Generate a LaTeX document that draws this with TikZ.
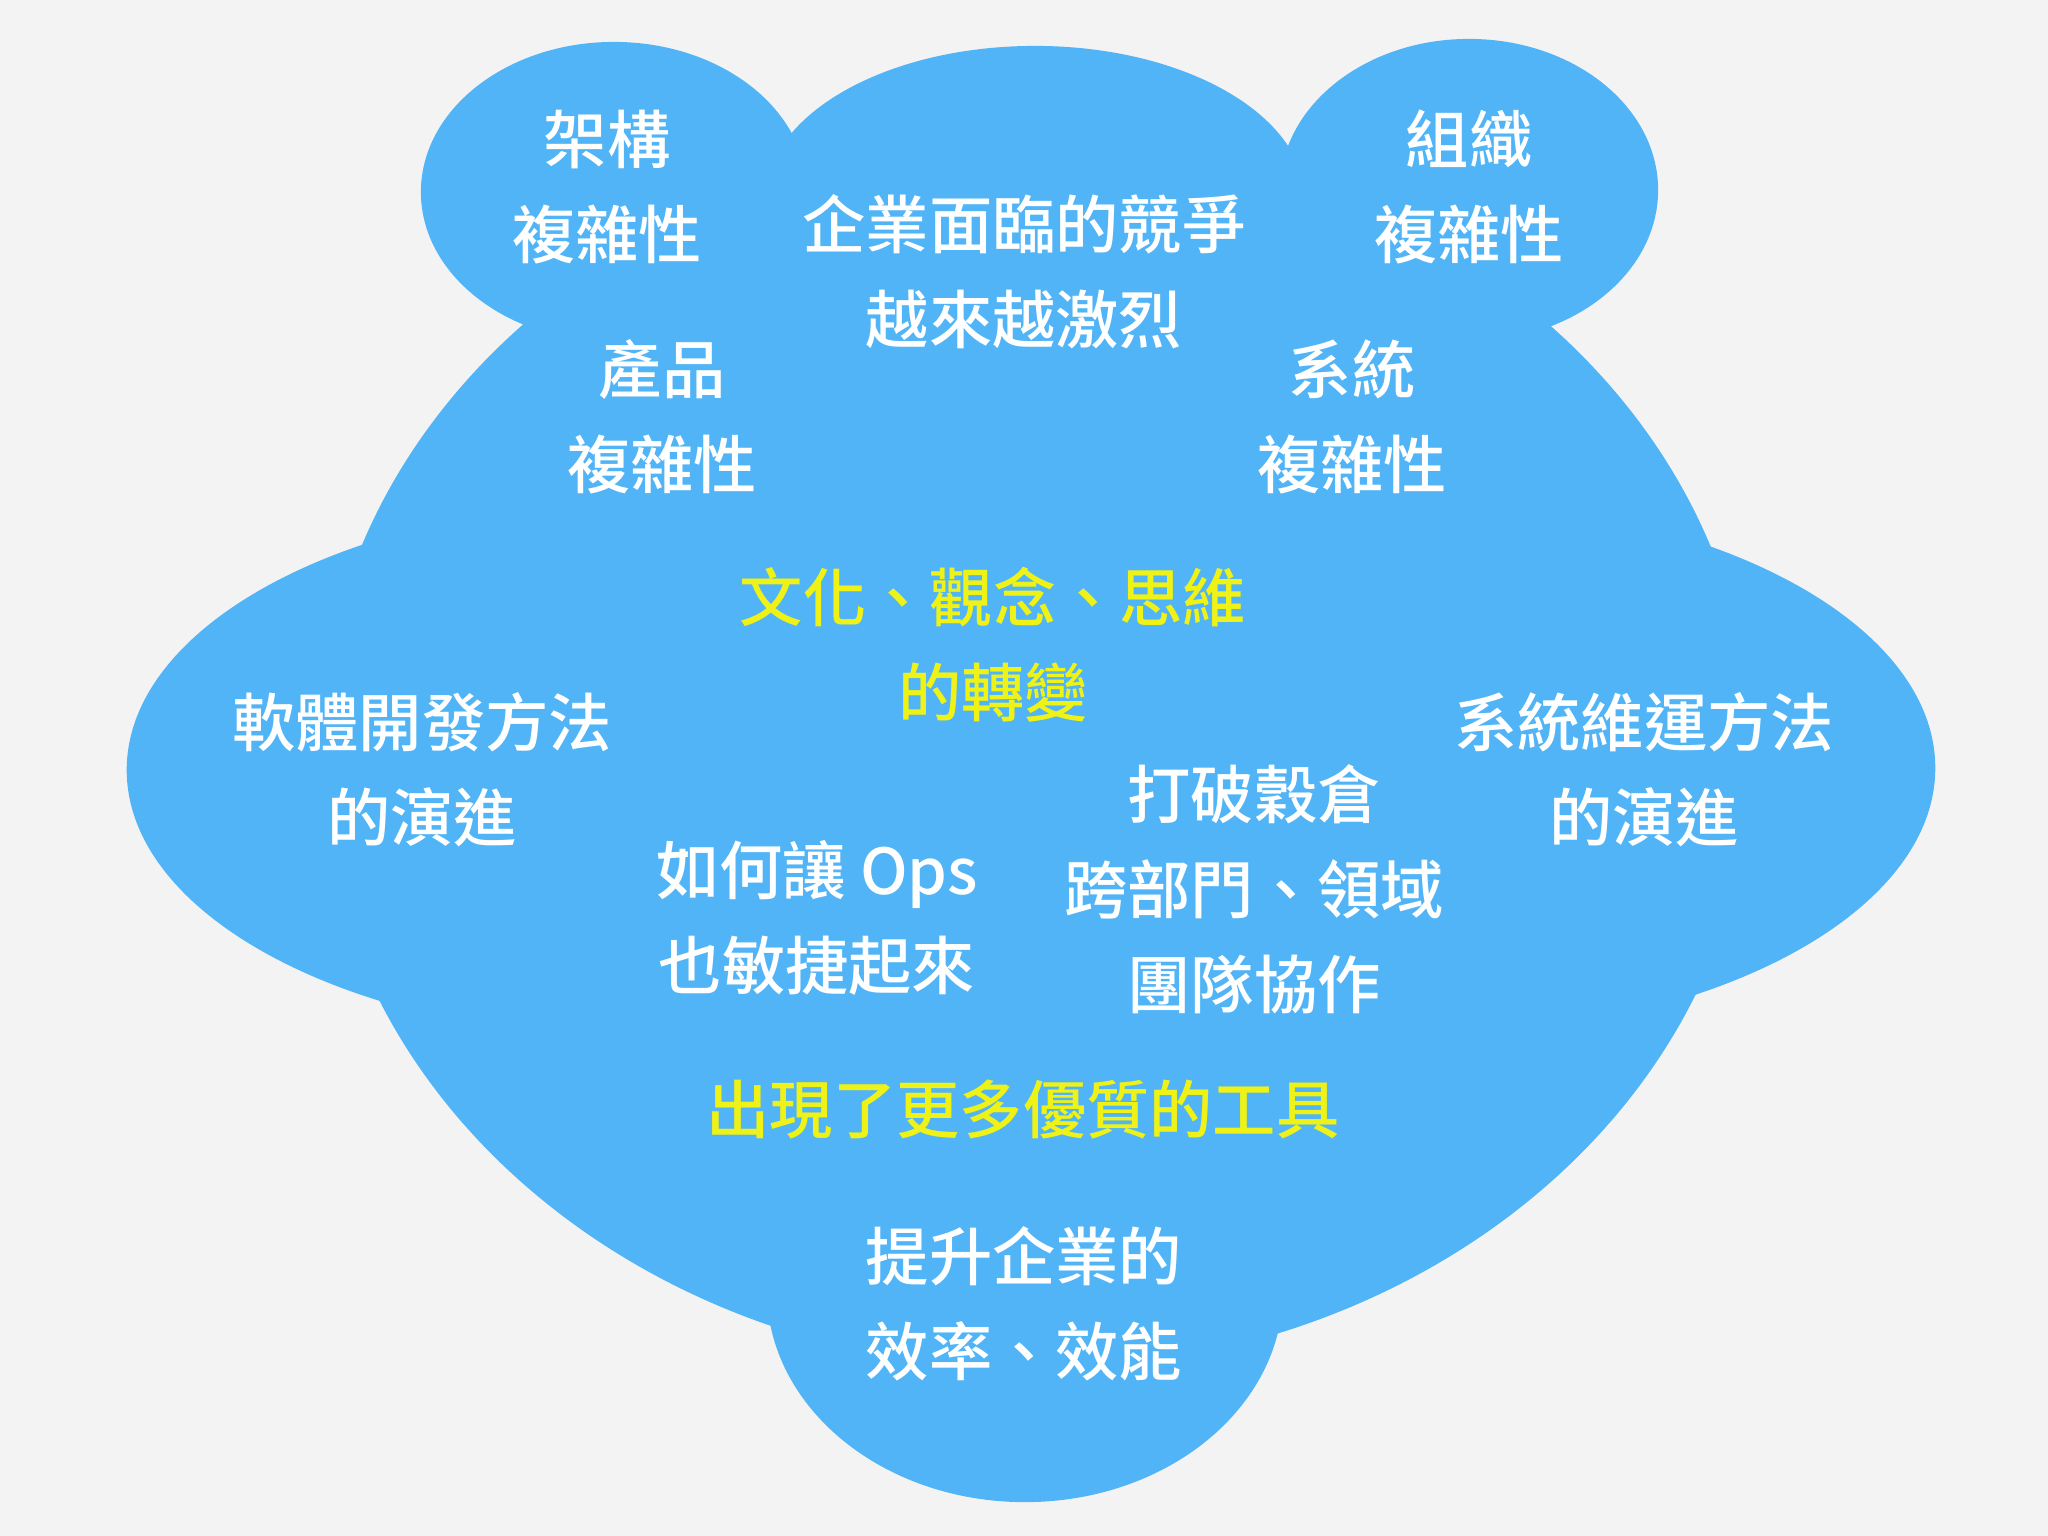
\documentclass[tikz,border=0pt]{standalone}
\usepackage{fontspec}
\setmainfont{Noto Sans CJK TC}[UprightFont=* Medium]
\usetikzlibrary{positioning}
\definecolor{cloudblue}{HTML}{50B4F7}
\definecolor{pagegray}{HTML}{F3F3F3}
\definecolor{hiyellow}{HTML}{EEF216}

\begin{document}
\begin{tikzpicture}[x=0.01cm,y=-0.01cm,
  lbl/.style={text=white,align=center,inner sep=0pt,font=\fontsize{18}{27}\selectfont},
  hot/.style={lbl,text=hiyellow}]

\fill[pagegray] (0,0) rectangle (2048,1536);

% cloud = body + six bumps
\foreach \x/\y/\a/\b in {1036/754/7.16/6.15,614/192/1.93/1.50,1035/200/2.70/1.54,
1469/190/1.89/1.51,642/770/5.15/2.68,1420/768/5.15/2.68,1025/1290/2.58/2.12}
	\fill[cloudblue] (\x,\y) ellipse [x radius=\a cm,y radius=\b cm];

\node[lbl] (arch) at (607,187) {架構\\複雜性};
\node[lbl] (compete) at (1024,272) {企業面臨的競爭\\越來越激烈};
\node[lbl] (org) at (1469,187) {組織\\複雜性};
\node[lbl] (prod) at (662,417) {產品\\複雜性};
\node[lbl] (sys) at (1352,417) {系統\\複雜性};
\node[hot] (culture) at (993,645) {文化、觀念、思維\\的轉變};
\node[lbl] (dev) at (422,770) {軟體開發方法\\的演進};
\node[lbl] (ops) at (1644,770) {系統維運方法\\的演進};
\node[lbl] (silo) at (1254,889) {打破穀倉\\跨部門、領域\\團隊協作};
\node[lbl] (agile) at (817,918) {如何讓 Ops\\也敏捷起來};
\node[hot] (tools) at (1023,1110) {出現了更多優質的工具};
\node[lbl] (gain) at (1024,1304) {提升企業的\\效率、效能};

\end{tikzpicture}
\end{document}
